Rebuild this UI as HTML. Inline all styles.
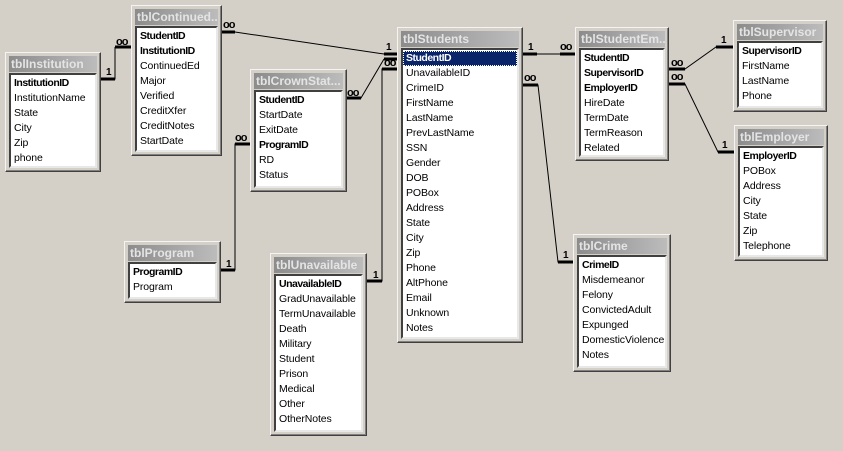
<!DOCTYPE html>
<html><head><meta charset="utf-8"><style>
html,body{margin:0;padding:0;}
body{width:843px;height:451px;background:#d4d0c8;position:relative;overflow:hidden;font-family:"Liberation Sans",sans-serif;font-size:10.5px;}
.t{position:absolute;background:#d4d0c8;box-sizing:border-box;border:1px solid;border-color:#f4f4f4 #404040 #404040 #f4f4f4;box-shadow:inset -1px -1px #808080;}
.h{position:absolute;left:3px;right:3px;top:3px;height:16px;background:linear-gradient(90deg,#8c8c8c,#bcbcbc);color:#e4e4e4;font-weight:bold;font-size:12px;line-height:16px;padding-left:2px;white-space:nowrap;overflow:hidden;}
.l{position:absolute;left:3px;right:3px;top:20px;bottom:3px;background:#fff;box-sizing:border-box;border:2px solid;border-color:#404040 #e8e8e8 #e8e8e8 #404040;padding-top:1px;overflow:hidden;}
.l div{height:15px;line-height:15px;padding-left:3px;white-space:nowrap;color:#000;letter-spacing:-0.1px;}
.b{font-weight:bold;letter-spacing:-0.5px !important;}
.sel{background:#0a246a;color:#fff !important;outline:1px dotted #fff;outline-offset:-1px;}
svg{position:absolute;left:0;top:0;}
svg text{font-family:"Liberation Sans",sans-serif;font-size:10px;font-weight:bold;fill:#000;}
svg text.m{font-size:11px;letter-spacing:-1px;}
</style></head><body>

<div class="t" style="left:5px;top:52px;width:96px;height:120px"><div class="h">tblInstitution</div><div class="l">
<div class="b">InstitutionID</div><div>InstitutionName</div><div>State</div><div>City</div><div>Zip</div><div>phone</div></div></div>

<div class="t" style="left:131px;top:5px;width:91px;height:151px"><div class="h">tblContinued...</div><div class="l">
<div class="b">StudentID</div><div class="b">InstitutionID</div><div>ContinuedEd</div><div>Major</div><div>Verified</div><div>CreditXfer</div><div>CreditNotes</div><div>StartDate</div></div></div>

<div class="t" style="left:250px;top:69px;width:97px;height:123px"><div class="h">tblCrownStat...</div><div class="l">
<div class="b">StudentID</div><div>StartDate</div><div>ExitDate</div><div class="b">ProgramID</div><div>RD</div><div>Status</div></div></div>

<div class="t" style="left:124px;top:241px;width:97px;height:62px"><div class="h">tblProgram</div><div class="l">
<div class="b">ProgramID</div><div>Program</div></div></div>

<div class="t" style="left:270px;top:253px;width:97px;height:183px"><div class="h">tblUnavailable</div><div class="l">
<div class="b">UnavailableID</div><div>GradUnavailable</div><div>TermUnavailable</div><div>Death</div><div>Military</div><div>Student</div><div>Prison</div><div>Medical</div><div>Other</div><div>OtherNotes</div></div></div>

<div class="t" style="left:397px;top:27px;width:126px;height:316px"><div class="h">tblStudents</div><div class="l">
<div class="b sel">StudentID</div><div>UnavailableID</div><div>CrimeID</div><div>FirstName</div><div>LastName</div><div>PrevLastName</div><div>SSN</div><div>Gender</div><div>DOB</div><div>POBox</div><div>Address</div><div>State</div><div>City</div><div>Zip</div><div>Phone</div><div>AltPhone</div><div>Email</div><div>Unknown</div><div>Notes</div></div></div>

<div class="t" style="left:575px;top:27px;width:94px;height:134px"><div class="h">tblStudentEm...</div><div class="l">
<div class="b">StudentID</div><div class="b">SupervisorID</div><div class="b">EmployerID</div><div>HireDate</div><div>TermDate</div><div>TermReason</div><div>Related</div></div></div>

<div class="t" style="left:733px;top:20px;width:94px;height:92px"><div class="h">tblSupervisor</div><div class="l">
<div class="b">SupervisorID</div><div>FirstName</div><div>LastName</div><div>Phone</div></div></div>

<div class="t" style="left:734px;top:125px;width:94px;height:136px"><div class="h">tblEmployer</div><div class="l">
<div class="b">EmployerID</div><div>POBox</div><div>Address</div><div>City</div><div>State</div><div>Zip</div><div>Telephone</div></div></div>

<div class="t" style="left:573px;top:234px;width:98px;height:138px"><div class="h">tblCrime</div><div class="l">
<div class="b">CrimeID</div><div>Misdemeanor</div><div>Felony</div><div>ConvictedAdult</div><div>Expunged</div><div>DomesticViolence</div><div>Notes</div></div></div>

<svg width="843" height="451">
<g stroke="#000" fill="none">
<path d="M101 79H115V47" stroke-width="1"/>
<path d="M101 79H115" stroke-width="3"/><path d="M115 47H131" stroke-width="3"/>
<path d="M222 32H235L384 54H397" stroke-width="1"/>
<path d="M222 32H235" stroke-width="3"/><path d="M384 54H397" stroke-width="3"/>
<path d="M347 98H361L384 59" stroke-width="1"/>
<path d="M347 98H361" stroke-width="3"/><path d="M384 59H397" stroke-width="3"/>
<path d="M367 281H382V69H397" stroke-width="1"/>
<path d="M367 281H382" stroke-width="3"/><path d="M382 69H397" stroke-width="3"/>
<path d="M221 270H235V144H250" stroke-width="1"/>
<path d="M221 270H235" stroke-width="3"/><path d="M235 144H250" stroke-width="3"/>
<path d="M523 54H575" stroke-width="1"/>
<path d="M523 54H537" stroke-width="3"/><path d="M560 54H575" stroke-width="3"/>
<path d="M523 85H538L558 262H573" stroke-width="1"/>
<path d="M523 85H538" stroke-width="3"/><path d="M558 262H573" stroke-width="3"/>
<path d="M669 69H685L716 47H733" stroke-width="1"/>
<path d="M669 69H685" stroke-width="3"/><path d="M716 47H733" stroke-width="3"/>
<path d="M669 84H685L718 152H734" stroke-width="1"/>
<path d="M669 84H685" stroke-width="3"/><path d="M718 152H734" stroke-width="3"/>
</g>
<text x="106" y="75">1</text><text class="m" x="116" y="45">oo</text>
<text class="m" x="223" y="28">oo</text><text x="386" y="50">1</text>
<text class="m" x="347" y="96">oo</text><text class="m" x="384" y="66">oo</text>
<text x="373" y="278">1</text>
<text x="226" y="267">1</text><text class="m" x="235" y="141">oo</text>
<text x="528" y="50">1</text><text class="m" x="560" y="50">oo</text>
<text class="m" x="524" y="81">oo</text><text x="563" y="258">1</text>
<text class="m" x="671" y="66">oo</text><text class="m" x="671" y="80">oo</text>
<text x="721" y="43">1</text><text x="722" y="148">1</text>
</svg>
</body></html>
